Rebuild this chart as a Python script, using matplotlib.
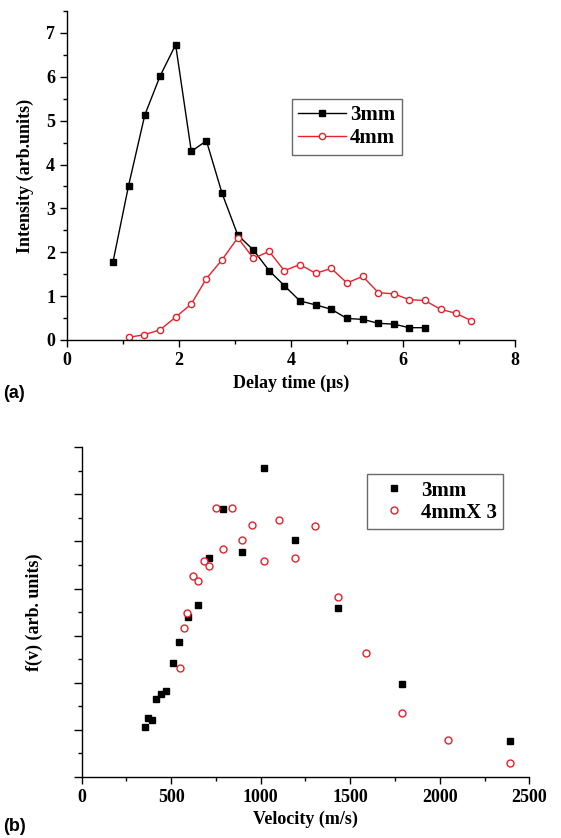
import matplotlib
matplotlib.use("Agg")
import matplotlib.pyplot as plt
from matplotlib.ticker import MultipleLocator

# (a) intensity vs delay time
t_3mm = [0.82, 1.10, 1.39, 1.66, 1.94, 2.22, 2.49, 2.77, 3.05, 3.33, 3.61,
         3.88, 4.16, 4.44, 4.72, 5.00, 5.28, 5.56, 5.84, 6.11, 6.39]
I_3mm = [1.77, 3.52, 5.13, 6.01, 6.73, 4.30, 4.54, 3.34, 2.39, 2.05, 1.58,
         1.24, 0.89, 0.80, 0.70, 0.49, 0.47, 0.38, 0.36, 0.28, 0.28]
t_4mm = [1.10, 1.38, 1.66, 1.94, 2.22, 2.49, 2.77, 3.05, 3.33, 3.61, 3.88,
         4.16, 4.44, 4.72, 5.00, 5.28, 5.56, 5.84, 6.11, 6.39, 6.67, 6.94, 7.22]
I_4mm = [0.06, 0.12, 0.23, 0.52, 0.82, 1.40, 1.83, 2.33, 1.86, 2.02, 1.58,
         1.72, 1.52, 1.63, 1.30, 1.45, 1.08, 1.05, 0.92, 0.90, 0.70, 0.61, 0.44]

# (b) velocity distribution
v_3mm = [353, 372, 394, 416, 443, 472, 508, 545, 593, 647, 712, 792, 893,
         1021, 1192, 1432, 1791, 2392]
f_3mm = [2.10, 2.48, 2.43, 3.29, 3.51, 3.65, 4.85, 5.73, 6.80, 7.28, 9.31,
         11.36, 9.55, 13.12, 10.07, 7.17, 3.96, 1.52]
v_4mm = [547, 569, 591, 619, 647, 681, 712, 749, 792, 839, 893, 952, 1021,
         1101, 1192, 1302, 1432, 1590, 1791, 2048, 2392]
f_4mm = [4.64, 6.34, 6.95, 8.54, 8.30, 9.15, 8.95, 11.41, 9.68, 11.43, 10.07,
         10.71, 9.19, 10.92, 9.28, 10.67, 7.65, 5.28, 2.72, 1.55, 0.58]

serif = "Liberation Serif"
red = "#e8202a"

fig = plt.figure(figsize=(5.61, 8.38), dpi=100)

def style_axes(ax):
    for s in ["top", "right"]:
        ax.spines[s].set_visible(False)
    for s in ["left", "bottom"]:
        ax.spines[s].set_linewidth(1.0)
    ax.tick_params(which="major", direction="out", length=5, width=1)
    ax.tick_params(which="minor", direction="out", length=3, width=1)
    for lab in ax.get_xticklabels() + ax.get_yticklabels():
        lab.set_fontfamily(serif)
        lab.set_fontweight("bold")
        lab.set_fontsize(13)

# ---- panel (a)
ax1 = fig.add_axes([0.1194, 0.5943, 0.7986, 0.3926])
ax1.plot(t_3mm, I_3mm, "-s", color="black", lw=1.0, ms=4.2, label="3mm")
ax1.plot(t_4mm, I_4mm, "-o", color=red, lw=1.0, ms=4.5, mfc="white",
         mec=red, mew=1.0, label="4mm")
ax1.set_xlim(0, 8)
ax1.set_ylim(0, 7.5)
ax1.xaxis.set_major_locator(MultipleLocator(2))
ax1.xaxis.set_minor_locator(MultipleLocator(1))
ax1.yaxis.set_major_locator(MultipleLocator(1))
ax1.yaxis.set_minor_locator(MultipleLocator(0.5))
style_axes(ax1)
ax1.set_xlabel("Delay time (\u03bcs)", fontfamily=serif, fontweight="bold",
               fontsize=13, labelpad=4)
ax1.set_ylabel("Intensity (arb.units)", fontfamily=serif, fontweight="bold",
               fontsize=13, labelpad=9)
leg1 = ax1.legend(loc="upper left", bbox_to_anchor=(0.502, 0.7325),
                  borderaxespad=0, fancybox=False, edgecolor="#444444",
                  prop={"family": serif, "weight": "bold", "size": 15},
                  handlelength=2.3, handletextpad=0.2, labelspacing=0.15,
                  borderpad=0.3)
leg1.get_frame().set_linewidth(1.0)

# ---- panel (b)
ax2 = fig.add_axes([0.1456, 0.0731, 0.7979, 0.3931])
ax2.plot(v_3mm, f_3mm, "s", color="black", ms=4.5, ls="none", label="3mm")
ax2.plot(v_4mm, f_4mm, "o", color=red, ms=5, mfc="white", mec=red,
         mew=1.0, ls="none", label="4mmX 3")
ax2.set_xlim(0, 2500)
ax2.set_ylim(0, 14)
ax2.xaxis.set_major_locator(MultipleLocator(500))
ax2.xaxis.set_minor_locator(MultipleLocator(250))
ax2.yaxis.set_major_locator(MultipleLocator(2))
ax2.yaxis.set_minor_locator(MultipleLocator(1))
style_axes(ax2)
ax2.tick_params(axis="y", which="both", labelleft=False)
ax2.tick_params(axis="y", which="major", length=6)
ax2.set_xlabel("Velocity (m/s)", fontfamily=serif, fontweight="bold",
               fontsize=13, labelpad=4)
ax2.set_ylabel("f(v) (arb. units)", fontfamily=serif, fontweight="bold",
               fontsize=13, labelpad=22)
leg2 = ax2.legend(loc="upper left", bbox_to_anchor=(0.637, 0.918),
                  borderaxespad=0, fancybox=False, edgecolor="#444444",
                  prop={"family": serif, "weight": "bold", "size": 15},
                  handlelength=2.0, handletextpad=0.3, labelspacing=0.1,
                  borderpad=0.3, numpoints=1)
leg2.get_frame().set_linewidth(1.0)

fig.text(0.005, 0.531, "(a)", fontfamily="Liberation Sans", fontweight="bold",
         fontsize=13, va="center")
fig.text(0.005, 0.0143, "(b)", fontfamily="Liberation Sans", fontweight="bold",
         fontsize=13, va="center")

fig.savefig("out.png", dpi=100)
